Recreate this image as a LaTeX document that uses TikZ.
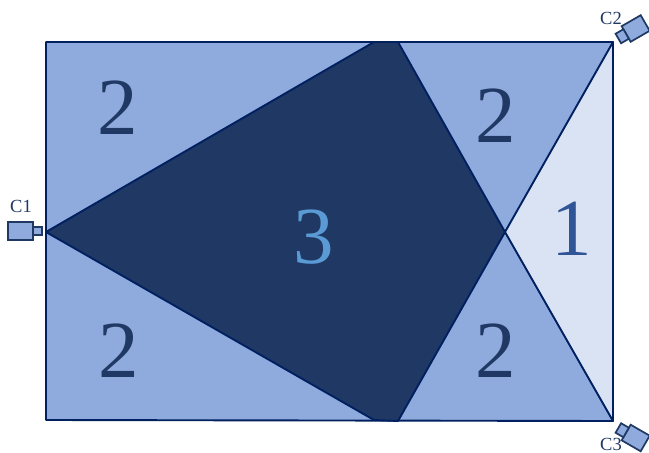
\documentclass[tikz,border=0pt]{standalone}
\usepackage{fontspec}
\setmainfont{Liberation Serif}
\definecolor{midblue}{HTML}{8FAADC}
\definecolor{paleblue}{HTML}{DAE3F3}
\definecolor{deepblue}{HTML}{1F3864}
\definecolor{edgeblue}{HTML}{002060}
\definecolor{threeblue}{HTML}{5B9BD5}
\definecolor{oneblue}{HTML}{2F5597}
\tikzset{
  region/.style={draw=edgeblue,line width=1.9pt,line join=round},
  bignum/.style={font=\fontsize{81}{81}\selectfont,text=deepblue,inner sep=0pt},
  camlabel/.style={font=\fontsize{18.5}{18.5}\selectfont,text=deepblue,inner sep=0pt},
  cambody/.style={draw=deepblue,fill=midblue,line width=1.7pt,line join=miter},
}
\begin{document}
\begin{tikzpicture}[x=1pt,y=-1pt]
\useasboundingbox (0,0) rectangle (649,453);
\coordinate (TL) at (46,42);
\coordinate (TR) at (613,42);
\coordinate (BR) at (613,421);
\coordinate (BL) at (46,420);
\coordinate (L) at (46,232);
\coordinate (KT1) at (374,42);
\coordinate (KT2) at (398,42);
\coordinate (X) at (505,232);
\coordinate (KB2) at (398,421);
\coordinate (KB1) at (374,420);
\draw[region,fill=midblue] (TL) -- (TR) -- (BR) -- (BL) -- cycle;
\draw[region,fill=paleblue] (TR) -- (X) -- (BR) -- cycle;
\draw[region,fill=deepblue] (L) -- (KT1) -- (KT2) -- (X) -- (KB2) -- (KB1) -- cycle;
\node[bignum] (n1) at (118,108) {2};
\node[bignum] (n2) at (496,116) {2};
\node[bignum,text=threeblue] (n3) at (313.5,237) {3};
\node[bignum,text=oneblue] (n4) at (572,229) {1};
\node[bignum] (n5) at (118.5,351) {2};
\node[bignum] (n6) at (496,351) {2};
\draw[cambody] (8,222) rectangle (33,240);
\draw[cambody] (33,227) rectangle (42,235);
\node[camlabel] (c1) at (21,206) {C1};
\begin{scope}[shift={(627,33.5)},rotate=30]
\draw[cambody] (-1,-9) rectangle (21,9);
\draw[cambody] (-10,-5.5) rectangle (-1,5.5);
\end{scope}
\node[camlabel] (c2) at (611,18) {C2};
\begin{scope}[shift={(627,433)},rotate=-30]
\draw[cambody] (-1,-9) rectangle (21,9);
\draw[cambody] (-10,-5.5) rectangle (-1,5.5);
\end{scope}
\node[camlabel] (c3) at (611,444) {C3};
\end{tikzpicture}
\end{document}
